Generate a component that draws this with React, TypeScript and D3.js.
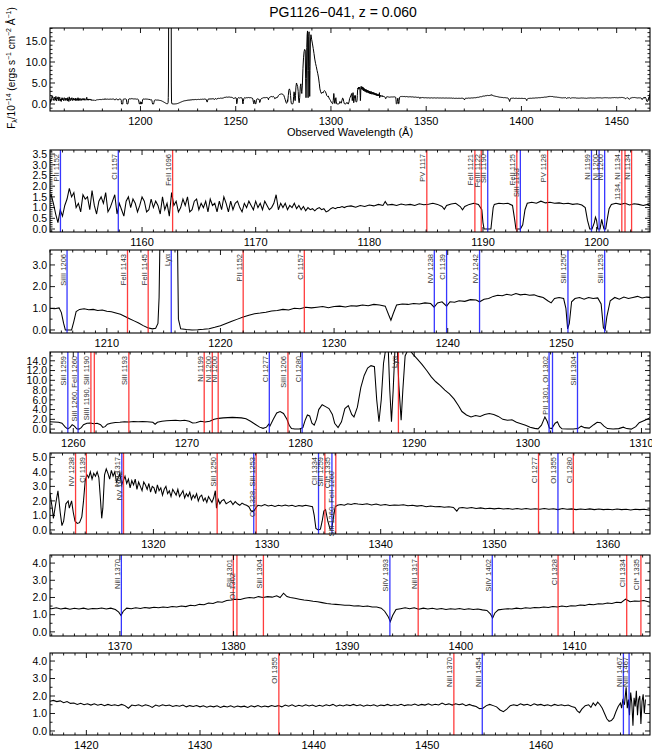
import * as d3 from 'd3';

// ── Figure geometry ─────────────────────────────────────────────────────────
const W = 652;
const H = 753;
const LEFT = 50;
const RIGHT = 650;
const FONT = '"Liberation Sans", Arial, Helvetica, sans-serif';

const TITLE = 'PG1126\u2212041, z = 0.060';
const X_TITLE = 'Observed Wavelength (\u00c5)';

// ── Spectrum: [observed wavelength (Å), flux (1e-14 erg/s/cm²/Å)] ──────────
const spec1: [number, number][] = [
  [1150.2, 1.3], [1150.6, 0.8], [1151.0, 1.5], [1151.4, 1.0], [1151.8, 1.4],
  [1152.0, 1.6], [1152.2, 1.2], [1152.4, 0.7], [1152.6, 0.3], [1152.8, 0.9], [1153.0, 0.6],
  [1153.2, 1.1], [1153.4, 1.4], [1153.6, 1.9], [1153.8, 1.5], [1154.0, 1.7], [1154.2, 1.0],
  [1154.4, 1.2], [1154.6, 0.8], [1154.8, 1.6], [1155.0, 1.4], [1155.2, 1.5], [1155.4, 0.9],
  [1155.6, 1.8], [1155.8, 1.1], [1156.0, 0.7], [1156.2, 1.3], [1156.4, 1.5], [1156.6, 1.2],
  [1156.8, 1.7], [1157.0, 0.8], [1157.2, 1.0], [1157.4, 1.3], [1157.6, 1.6], [1157.8, 0.7],
  [1158.0, 1.2], [1158.2, 0.9], [1158.4, 0.6], [1158.6, 1.3], [1158.8, 1.5], [1159.0, 1.0],
  [1159.2, 1.4], [1159.4, 1.2], [1159.6, 0.8], [1159.8, 1.1], [1160.0, 1.5], [1160.2, 1.3],
  [1160.4, 0.8], [1160.6, 0.9], [1160.8, 1.4], [1161.0, 1.0], [1161.2, 1.3], [1161.4, 1.1],
  [1161.6, 0.7], [1161.8, 1.5], [1162.0, 0.9], [1162.2, 1.2], [1162.4, 0.6], [1162.6, 1.7],
  [1162.8, 1.1], [1163.0, 1.3], [1163.2, 0.8], [1163.4, 1.0], [1163.6, 1.4], [1163.8, 1.1],
  [1164.0, 1.5], [1164.2, 0.8], [1164.4, 0.9], [1164.6, 1.3], [1164.8, 1.4], [1165.0, 0.9],
  [1165.2, 1.2], [1165.4, 1.0], [1165.6, 1.3], [1165.8, 0.8], [1166.0, 1.4], [1166.2, 1.1],
  [1166.4, 1.2], [1166.6, 0.8], [1166.8, 1.3], [1167.0, 0.9], [1167.2, 1.5], [1167.4, 1.2],
  [1167.6, 0.8], [1167.8, 1.3], [1168.0, 0.9], [1168.2, 1.2], [1168.4, 1.3], [1168.6, 1.0],
  [1168.8, 0.8], [1169.0, 1.2], [1169.2, 1.0], [1169.4, 1.3], [1169.6, 1.1], [1169.8, 0.9],
  [1170.0, 1.3], [1170.2, 1.0], [1170.4, 1.2], [1170.6, 0.9], [1170.8, 1.3], [1171.0, 1.1],
  [1171.2, 0.9], [1171.4, 1.0], [1171.6, 1.2], [1171.8, 1.6], [1172.0, 0.9], [1172.2, 1.2],
  [1172.4, 1.0], [1172.6, 1.2], [1172.8, 0.9], [1173.0, 1.1], [1173.2, 1.0], [1173.4, 1.2],
  [1173.6, 0.95], [1173.8, 1.1], [1174.0, 0.9], [1174.2, 1.05], [1174.4, 0.85], [1174.6, 1.0],
  [1174.8, 0.9], [1175.0, 0.95], [1175.2, 0.85], [1175.4, 0.95], [1175.6, 1.0], [1175.8, 0.9],
  [1176.0, 0.95], [1176.2, 0.8], [1176.4, 0.85], [1176.6, 0.95], [1176.8, 1.0], [1177.0, 0.95],
  [1177.2, 1.0], [1177.4, 1.0], [1177.6, 1.05], [1177.8, 1.0], [1178.0, 1.05],
  [1178.4, 1.08], [1178.8, 1.02], [1179.2, 1.1], [1179.6, 1.05], [1180.0, 1.12], [1180.4, 1.08],
  [1180.8, 1.15], [1181.2, 1.1], [1181.4, 1.28], [1181.6, 1.12], [1182.0, 1.15], [1182.4, 1.1],
  [1182.8, 1.17], [1183.2, 1.12], [1183.6, 1.15], [1184.0, 1.1], [1184.4, 1.18], [1184.8, 1.13],
  [1185.2, 1.16], [1185.6, 1.2], [1186.0, 1.15], [1186.4, 1.05], [1186.6, 0.92], [1186.8, 1.1],
  [1187.2, 1.17], [1187.6, 1.2], [1188.0, 1.05], [1188.2, 0.9], [1188.4, 1.05], [1188.8, 1.15],
  [1189.2, 1.2], [1189.6, 1.15], [1189.9, 0.9], [1190.0, 0.3], [1190.1, 0.0], [1190.4, 0.0],
  [1190.7, 0.0], [1190.8, 0.5], [1190.9, 1.0], [1191.0, 1.15], [1191.4, 1.2], [1191.8, 1.18],
  [1192.2, 1.2], [1192.6, 1.1], [1192.8, 0.4], [1192.9, 0.0], [1193.3, 0.0], [1193.5, 0.2],
  [1193.7, 0.9], [1193.9, 1.2], [1194.3, 1.25], [1194.7, 1.2], [1195.1, 1.3], [1195.5, 1.22],
  [1195.9, 1.25], [1196.3, 1.2], [1196.7, 1.22], [1197.1, 1.18], [1197.5, 1.2], [1197.9, 1.15],
  [1198.3, 1.18], [1198.7, 1.12], [1199.0, 1.0], [1199.2, 0.4], [1199.4, 0.0], [1199.6, 0.0],
  [1199.8, 0.3], [1199.9, 0.55], [1200.0, 0.4], [1200.1, 0.0], [1200.3, 0.0], [1200.45, 0.45],
  [1200.55, 0.2], [1200.65, 0.0], [1200.8, 0.0], [1200.95, 0.5], [1201.1, 0.95], [1201.3, 1.15],
  [1201.7, 1.2], [1202.1, 1.15], [1202.5, 1.2], [1202.9, 1.12], [1203.3, 1.18], [1203.7, 1.15],
  [1204.1, 1.1], [1204.5, 1.15],
];

const spec2: [number, number][] = [
  [1205.0, 1.0], [1205.4, 0.98], [1205.8, 1.02], [1206.0, 0.8], [1206.2, 0.3], [1206.35, 0.0],
  [1206.9, 0.0], [1207.1, 0.4], [1207.3, 0.85], [1207.6, 0.95], [1208.0, 0.98], [1208.4, 0.93],
  [1208.8, 0.95], [1209.2, 0.9], [1209.6, 0.92], [1210.0, 0.86], [1210.4, 0.84], [1210.8, 0.78],
  [1211.2, 0.72], [1211.6, 0.62], [1212.0, 0.52], [1212.4, 0.42], [1212.8, 0.32], [1213.2, 0.2],
  [1213.6, 0.1], [1214.0, 0.05], [1214.3, 0.08], [1214.5, 0.3], [1214.6, 1.5], [1214.7, 5.0],
  [1214.9, 40], [1215.1, 60], [1215.3, 25], [1215.5, 60], [1215.7, 30], [1215.9, 60],
  [1216.1, 40], [1216.2, 5.0], [1216.3, 0.5], [1216.5, 0.05], [1217.0, 0.02], [1217.5, 0.0],
  [1218.0, 0.01], [1218.5, 0.03], [1219.0, 0.06], [1219.5, 0.12], [1220.0, 0.2], [1220.5, 0.3],
  [1221.0, 0.4], [1221.5, 0.5], [1222.0, 0.6], [1222.5, 0.68], [1223.0, 0.75], [1223.5, 0.78],
  [1224.0, 0.82], [1224.5, 0.88], [1225.0, 0.9], [1225.5, 0.95], [1226.0, 0.92], [1226.5, 1.0],
  [1227.0, 0.98], [1227.5, 1.05], [1228.0, 1.02], [1228.5, 1.05], [1229.0, 1.08], [1229.5, 1.03],
  [1230.0, 1.08], [1230.5, 1.1], [1231.0, 1.06], [1231.5, 1.12], [1232.0, 1.1], [1232.5, 1.15],
  [1233.0, 1.12], [1233.5, 1.18], [1234.0, 1.15], [1234.5, 1.1], [1234.8, 0.7], [1235.0, 0.45],
  [1235.2, 0.75], [1235.5, 1.15], [1236.0, 1.2], [1236.5, 1.18], [1237.0, 1.22], [1237.5, 1.2],
  [1238.0, 1.25], [1238.5, 1.22], [1238.8, 1.05], [1239.1, 1.25], [1239.5, 1.3], [1239.9, 1.1],
  [1240.2, 1.3], [1240.6, 1.28], [1241.0, 1.35], [1241.5, 1.32], [1242.0, 1.4], [1242.5, 1.38],
  [1242.8, 1.3], [1243.2, 1.42], [1243.6, 1.45], [1244.0, 1.55], [1244.4, 1.6], [1244.8, 1.58],
  [1245.2, 1.65], [1245.6, 1.6], [1246.0, 1.68], [1246.4, 1.62], [1246.8, 1.65], [1247.2, 1.6],
  [1247.6, 1.62], [1248.0, 1.55], [1248.4, 1.5], [1248.8, 1.35], [1249.1, 1.25], [1249.4, 1.45],
  [1249.8, 1.5], [1250.2, 1.45], [1250.4, 1.0], [1250.55, 0.05], [1250.7, 0.3], [1250.9, 1.3],
  [1251.2, 1.45], [1251.6, 1.5], [1252.0, 1.42], [1252.4, 1.5], [1252.8, 1.45], [1253.2, 1.48],
  [1253.5, 1.2], [1253.7, 0.1], [1253.85, 0.0], [1254.0, 0.6], [1254.3, 1.35], [1254.7, 1.5],
  [1255.1, 1.42], [1255.5, 1.52], [1255.9, 1.45], [1256.3, 1.5], [1256.7, 1.55], [1257.1, 1.48],
  [1257.5, 1.52],
];

const spec3: [number, number][] = [
  [1257.9, 1.5], [1258.3, 1.45], [1258.7, 1.4], [1259.0, 1.2], [1259.3, 0.4], [1259.5, 0.05],
  [1259.7, 0.3], [1259.9, 0.9], [1260.1, 0.6], [1260.3, 0.05], [1260.5, 0.0], [1260.7, 0.3],
  [1260.9, 0.9], [1261.2, 1.2], [1261.5, 1.25], [1261.8, 1.1], [1262.1, 1.2], [1262.4, 0.9],
  [1262.6, 0.35], [1262.8, 0.5], [1263.0, 1.0], [1263.3, 1.2], [1263.7, 1.35], [1264.1, 1.4],
  [1264.5, 1.5], [1264.9, 1.45], [1265.3, 1.55], [1265.7, 1.5], [1266.1, 1.55], [1266.5, 1.5],
  [1267.0, 1.4], [1267.2, 1.0], [1267.4, 1.4], [1267.8, 1.6], [1268.2, 1.7], [1268.6, 1.75],
  [1269.0, 1.8], [1269.4, 1.7], [1269.8, 1.8], [1270.2, 1.6], [1270.5, 1.25], [1270.8, 1.3],
  [1271.2, 1.6], [1271.6, 1.45], [1272.0, 1.6], [1272.4, 2.0], [1272.8, 2.2], [1273.2, 2.3],
  [1273.6, 2.35], [1274.0, 2.4], [1274.4, 2.35], [1274.8, 2.3], [1275.2, 2.1], [1275.6, 1.6],
  [1276.0, 1.0], [1276.4, 0.4], [1276.7, 0.15], [1277.0, 0.4], [1277.2, 1.0], [1277.3, 0.6],
  [1277.6, 2.0], [1277.9, 3.3], [1278.2, 3.6], [1278.5, 3.2], [1278.8, 2.0], [1279.0, 0.8],
  [1279.2, 0.1], [1279.5, 0.0], [1279.9, 0.0], [1280.2, 0.3], [1280.4, 1.8], [1280.6, 2.9],
  [1280.8, 2.7], [1281.0, 1.2], [1281.2, 0.8], [1281.4, 2.0], [1281.6, 4.0], [1281.9, 5.0],
  [1282.2, 4.6], [1282.5, 4.2], [1282.8, 3.0], [1283.0, 1.2], [1283.3, 0.3], [1283.6, 1.5],
  [1283.9, 4.2], [1284.2, 4.8], [1284.5, 3.0], [1284.7, 2.5], [1285.0, 4.5], [1285.3, 8.5],
  [1285.6, 11.0], [1285.9, 12.5], [1286.2, 13.0], [1286.5, 12.8], [1286.7, 6.0], [1286.9, 1.5],
  [1287.1, 6.0], [1287.3, 13.5], [1287.5, 16.5], [1287.7, 17.4], [1287.85, 8.0], [1288.0, 1.5],
  [1288.15, 8.0], [1288.3, 16.0], [1288.5, 17.2], [1288.65, 9.0], [1288.85, 1.8], [1289.0, 8.0],
  [1289.2, 15.0], [1289.5, 16.5], [1289.9, 15.3], [1290.3, 14.3], [1290.7, 13.2], [1291.1, 12.0],
  [1291.5, 10.7], [1291.9, 9.7], [1292.3, 8.9], [1292.7, 8.0], [1293.1, 7.2], [1293.5, 6.2],
  [1293.9, 4.8], [1294.2, 3.6], [1294.6, 2.9], [1295.0, 2.5], [1295.4, 2.8], [1295.8, 2.6],
  [1296.2, 3.0], [1296.6, 3.2], [1297.0, 3.0], [1297.4, 2.6], [1297.8, 2.0], [1298.2, 1.8],
  [1298.6, 1.9], [1299.0, 1.4], [1299.4, 1.1], [1299.8, 0.8], [1300.2, 0.4], [1300.6, 0.15],
  [1300.9, 0.05], [1301.2, 0.8], [1301.5, 2.5], [1301.7, 1.6], [1301.9, 0.2], [1302.1, 0.1],
  [1302.4, 1.2], [1302.6, 1.5], [1302.8, 0.5], [1303.0, 0.05], [1303.5, 0.0], [1304.0, 0.02],
  [1304.4, 0.1], [1304.7, 0.6], [1305.0, 0.3], [1305.4, 0.2], [1305.8, 0.9], [1306.1, 1.4],
  [1306.4, 1.3], [1306.7, 0.6], [1307.0, 0.1], [1307.5, 0.0], [1308.0, 0.1], [1308.4, 0.4],
  [1308.7, 0.1], [1309.1, 0.0], [1309.5, 0.5], [1309.8, 1.3], [1310.1, 1.6], [1310.4, 1.9],
];

const spec4: [number, number][] = [
  [1310.9, 2.5], [1311.1, 1.5], [1311.2, 0.8], [1311.4, 1.8], [1311.6, 2.7], [1311.8, 1.2],
  [1311.95, 0.3], [1312.1, 0.6], [1312.3, 1.8], [1312.5, 2.0], [1312.6, 1.5], [1312.8, 2.0],
  [1312.95, 1.2], [1313.1, 0.6], [1313.3, 0.45], [1313.5, 0.5], [1313.7, 0.9], [1313.85, 2.0],
  [1314.0, 3.4], [1314.15, 3.8], [1314.3, 3.6], [1314.45, 4.0], [1314.6, 3.5], [1314.75, 3.9],
  [1314.9, 3.7], [1315.05, 4.0], [1315.2, 3.6], [1315.35, 2.0], [1315.45, 0.8], [1315.55, 1.5],
  [1315.7, 3.8], [1315.85, 4.2], [1316.0, 3.9], [1316.15, 3.5], [1316.3, 4.1], [1316.45, 3.7],
  [1316.6, 4.0], [1316.75, 3.3], [1316.9, 3.6], [1317.05, 3.9], [1317.2, 3.1], [1317.35, 3.4],
  [1317.5, 3.7], [1317.65, 3.2], [1317.8, 3.5], [1317.95, 2.9], [1318.1, 3.4], [1318.25, 3.1],
  [1318.4, 3.5], [1318.55, 2.8], [1318.7, 3.3], [1318.85, 3.0], [1319.0, 2.7], [1319.15, 3.3],
  [1319.3, 3.1], [1319.45, 2.8], [1319.6, 3.2], [1319.75, 2.6], [1319.9, 3.0], [1320.05, 2.9],
  [1320.2, 2.5], [1320.35, 3.1], [1320.5, 2.7], [1320.65, 2.9], [1320.8, 2.4], [1320.95, 2.8],
  [1321.1, 3.0], [1321.25, 2.5], [1321.4, 2.7], [1321.55, 2.3], [1321.7, 2.8], [1321.85, 2.6],
  [1322.0, 2.4], [1322.15, 2.8], [1322.3, 2.3], [1322.45, 2.5], [1322.6, 2.7], [1322.75, 2.2],
  [1322.9, 2.5], [1323.05, 2.3], [1323.2, 2.6], [1323.35, 2.1], [1323.5, 2.4], [1323.65, 2.2],
  [1323.8, 2.5], [1323.95, 2.0], [1324.1, 2.3], [1324.25, 2.4], [1324.4, 2.0], [1324.55, 2.2],
  [1324.7, 1.9], [1324.85, 2.3], [1325.0, 2.1], [1325.15, 1.9], [1325.3, 2.2], [1325.45, 2.7],
  [1325.55, 1.5], [1325.7, 2.1], [1325.85, 1.8], [1326.0, 2.0], [1326.2, 2.1], [1326.4, 1.8],
  [1326.6, 1.9], [1326.8, 2.0], [1327.0, 1.75], [1327.2, 1.95], [1327.4, 1.8], [1327.6, 1.7],
  [1327.8, 1.85], [1328.0, 1.75], [1328.2, 1.7], [1328.4, 1.6], [1328.6, 1.3], [1328.8, 1.25],
  [1329.0, 1.5], [1329.2, 1.7], [1329.5, 1.65], [1329.8, 1.75], [1330.1, 1.65], [1330.4, 1.7],
  [1330.7, 1.62], [1331.0, 1.7], [1331.3, 1.65], [1331.6, 1.72], [1331.9, 1.65], [1332.2, 1.7],
  [1332.5, 1.62], [1332.8, 1.68], [1333.1, 1.64], [1333.4, 1.7], [1333.7, 1.65], [1334.0, 1.6],
  [1334.15, 1.0], [1334.3, 0.1], [1334.5, 0.0], [1334.7, 0.05], [1334.85, 0.6], [1335.0, 1.3],
  [1335.15, 1.4], [1335.35, 0.6], [1335.55, 0.05], [1335.7, 0.1], [1335.85, 0.9], [1336.0, 1.6],
  [1336.2, 1.7], [1336.5, 1.75], [1336.8, 1.7], [1337.1, 1.8], [1337.4, 1.75], [1337.7, 1.82],
  [1338.0, 1.78], [1338.4, 1.75], [1338.8, 1.8], [1339.2, 1.72], [1339.6, 1.78], [1340.0, 1.7],
  [1340.4, 1.75], [1340.8, 1.68], [1341.2, 1.72], [1341.6, 1.7], [1342.0, 1.74], [1342.4, 1.66],
  [1342.8, 1.7], [1343.2, 1.64], [1343.6, 1.68], [1344.0, 1.6], [1344.4, 1.65], [1344.8, 1.6],
  [1345.2, 1.62], [1345.6, 1.56], [1346.0, 1.6], [1346.4, 1.55], [1346.7, 1.3], [1346.9, 1.52],
  [1347.2, 1.55], [1347.6, 1.5], [1348.0, 1.55], [1348.4, 1.48], [1348.8, 1.52], [1349.2, 1.46],
  [1349.6, 1.5], [1350.0, 1.45], [1350.4, 1.5], [1350.8, 1.44], [1351.2, 1.48], [1351.6, 1.42],
  [1352.0, 1.47], [1352.4, 1.43], [1352.8, 1.48], [1353.2, 1.42], [1353.6, 1.46], [1354.0, 1.43],
  [1354.4, 1.47], [1354.8, 1.42], [1355.2, 1.46], [1355.6, 1.4], [1356.0, 1.47], [1356.4, 1.43],
  [1356.8, 1.45], [1357.2, 1.4], [1357.6, 1.44], [1358.0, 1.41], [1358.4, 1.45], [1358.8, 1.4],
  [1359.2, 1.44], [1359.6, 1.4], [1360.0, 1.43], [1360.4, 1.39], [1360.8, 1.44], [1361.2, 1.4],
  [1361.6, 1.42], [1362.0, 1.38], [1362.4, 1.43], [1362.8, 1.4], [1363.2, 1.42],
];

const spec5: [number, number][] = [
  [1363.6, 1.38], [1364.0, 1.35], [1364.4, 1.4], [1364.8, 1.33], [1365.2, 1.38], [1365.6, 1.32],
  [1366.0, 1.37], [1366.4, 1.33], [1366.8, 1.38], [1367.2, 1.32], [1367.6, 1.36], [1368.0, 1.34],
  [1368.4, 1.39], [1368.8, 1.33], [1369.2, 1.38], [1369.6, 1.3], [1369.9, 1.15], [1370.1, 0.95],
  [1370.3, 1.2], [1370.6, 1.38], [1371.0, 1.35], [1371.4, 1.4], [1371.8, 1.36], [1372.2, 1.42],
  [1372.6, 1.38], [1373.0, 1.43], [1373.4, 1.4], [1373.8, 1.45], [1374.2, 1.42], [1374.6, 1.48],
  [1375.0, 1.45], [1375.4, 1.5], [1375.8, 1.47], [1376.2, 1.55], [1376.6, 1.52], [1377.0, 1.6],
  [1377.4, 1.58], [1377.8, 1.68], [1378.2, 1.65], [1378.6, 1.75], [1379.0, 1.72], [1379.4, 1.82],
  [1379.8, 1.85], [1380.2, 1.9], [1380.6, 1.88], [1381.0, 1.95], [1381.4, 2.0], [1381.8, 1.97],
  [1382.2, 2.05], [1382.6, 2.0], [1383.0, 2.05], [1383.4, 2.02], [1383.8, 2.1], [1384.1, 2.0],
  [1384.4, 2.25], [1384.7, 2.05], [1385.0, 2.0], [1385.4, 1.95], [1385.8, 1.9], [1386.2, 1.85],
  [1386.6, 1.82], [1387.0, 1.78], [1387.4, 1.75], [1387.8, 1.7], [1388.2, 1.65], [1388.6, 1.62],
  [1389.0, 1.6], [1389.4, 1.58], [1389.8, 1.55], [1390.2, 1.55], [1390.6, 1.5], [1391.0, 1.52],
  [1391.4, 1.48], [1391.8, 1.5], [1392.2, 1.45], [1392.6, 1.45], [1393.0, 1.38], [1393.3, 1.2],
  [1393.6, 0.9], [1393.8, 0.6], [1394.0, 0.95], [1394.3, 1.3], [1394.7, 1.35], [1395.1, 1.4],
  [1395.5, 1.35], [1395.9, 1.4], [1396.3, 1.32], [1396.7, 1.38], [1397.1, 1.33], [1397.5, 1.37],
  [1397.9, 1.32], [1398.3, 1.36], [1398.7, 1.3], [1399.1, 1.35], [1399.5, 1.32], [1399.9, 1.36],
  [1400.3, 1.3], [1400.7, 1.34], [1401.1, 1.3], [1401.5, 1.33], [1401.9, 1.28], [1402.3, 1.25],
  [1402.6, 1.05], [1402.8, 0.8], [1403.0, 1.1], [1403.3, 1.28], [1403.7, 1.32], [1404.1, 1.35],
  [1404.5, 1.33], [1404.9, 1.38], [1405.3, 1.35], [1405.7, 1.4], [1406.1, 1.37], [1406.5, 1.42],
  [1406.9, 1.4], [1407.3, 1.45], [1407.7, 1.42], [1408.1, 1.47], [1408.5, 1.45], [1408.9, 1.5],
  [1409.3, 1.46], [1409.7, 1.52], [1410.1, 1.5], [1410.5, 1.56], [1410.9, 1.54], [1411.3, 1.6],
  [1411.7, 1.58], [1412.1, 1.64], [1412.5, 1.62], [1412.9, 1.68], [1413.3, 1.65], [1413.7, 1.72],
  [1414.1, 1.7], [1414.5, 1.9], [1414.9, 1.75], [1415.3, 1.8], [1415.7, 1.78], [1416.1, 1.82],
  [1416.5, 1.75],
];

const spec6: [number, number][] = [
  [1416.8, 1.7], [1417.1, 1.75], [1417.4, 1.68], [1417.7, 1.72], [1418.0, 1.62], [1418.3, 1.68],
  [1418.6, 1.58], [1418.9, 1.6], [1419.2, 1.52], [1419.5, 1.58], [1419.8, 1.5], [1420.1, 1.56],
  [1420.4, 1.48], [1420.7, 1.55], [1421.0, 1.47], [1421.3, 1.53], [1421.6, 1.45], [1421.9, 1.52],
  [1422.2, 1.46], [1422.5, 1.5], [1422.8, 1.44], [1423.1, 1.52], [1423.4, 1.45], [1423.7, 1.3],
  [1424.0, 1.48], [1424.3, 1.44], [1424.6, 1.5], [1424.9, 1.42], [1425.2, 1.5], [1425.5, 1.45],
  [1425.8, 1.35], [1426.1, 1.48], [1426.4, 1.42], [1426.7, 1.5], [1427.0, 1.44], [1427.3, 1.48],
  [1427.6, 1.4], [1427.9, 1.46], [1428.2, 1.42], [1428.5, 1.48], [1428.8, 1.38], [1429.1, 1.45],
  [1429.4, 1.4], [1429.7, 1.46], [1430.0, 1.38], [1430.3, 1.44], [1430.6, 1.36], [1430.9, 1.43],
  [1431.2, 1.38], [1431.5, 1.44], [1431.8, 1.35], [1432.1, 1.42], [1432.4, 1.37], [1432.7, 1.44],
  [1433.0, 1.36], [1433.3, 1.43], [1433.6, 1.38], [1433.9, 1.42], [1434.2, 1.35], [1434.5, 1.44],
  [1434.8, 1.38], [1435.1, 1.45], [1435.4, 1.37], [1435.7, 1.43], [1436.0, 1.38], [1436.3, 1.46],
  [1436.6, 1.4], [1436.9, 1.45], [1437.2, 1.38], [1437.5, 1.48], [1437.8, 1.42], [1438.1, 1.5],
  [1438.4, 1.4], [1438.7, 1.47], [1439.0, 1.42], [1439.3, 1.5], [1439.6, 1.43], [1439.9, 1.48],
  [1440.2, 1.4], [1440.5, 1.47], [1440.8, 1.42], [1441.1, 1.5], [1441.4, 1.44], [1441.7, 1.52],
  [1442.0, 1.42], [1442.3, 1.48], [1442.6, 1.43], [1442.9, 1.5], [1443.2, 1.45], [1443.5, 1.52],
  [1443.8, 1.44], [1444.1, 1.5], [1444.4, 1.42], [1444.7, 1.48], [1445.0, 1.44], [1445.3, 1.5],
  [1445.6, 1.42], [1445.9, 1.48], [1446.2, 1.45], [1446.5, 1.52], [1446.8, 1.44], [1447.1, 1.5],
  [1447.4, 1.46], [1447.7, 1.53], [1448.0, 1.45], [1448.3, 1.5], [1448.6, 1.47], [1448.9, 1.54],
  [1449.2, 1.46], [1449.5, 1.52], [1449.8, 1.48], [1450.1, 1.55], [1450.4, 1.47], [1450.7, 1.53],
  [1451.0, 1.49], [1451.3, 1.6], [1451.6, 1.5], [1451.9, 1.55], [1452.2, 1.48], [1452.5, 1.56],
  [1452.8, 1.5], [1453.1, 1.55], [1453.4, 1.45], [1453.7, 1.52], [1454.0, 1.45], [1454.3, 1.4],
  [1454.6, 1.28], [1454.9, 1.3], [1455.2, 1.45], [1455.5, 1.52], [1455.8, 1.45], [1456.1, 1.38],
  [1456.4, 1.2], [1456.7, 1.1], [1457.0, 1.25], [1457.3, 1.45], [1457.6, 1.5], [1457.9, 1.45],
  [1458.2, 1.55], [1458.5, 1.48], [1458.8, 1.53], [1459.1, 1.45], [1459.4, 1.55], [1459.7, 1.48],
  [1460.0, 1.52], [1460.3, 1.45], [1460.6, 1.5], [1460.9, 1.43], [1461.2, 1.52], [1461.5, 1.46],
  [1461.8, 1.5], [1462.1, 1.44], [1462.4, 1.48], [1462.7, 1.4], [1463.0, 1.35], [1463.2, 1.15],
  [1463.4, 1.05], [1463.6, 1.25], [1463.9, 1.45], [1464.2, 1.5], [1464.4, 1.35], [1464.6, 1.6],
  [1464.8, 1.45], [1465.0, 1.65], [1465.2, 1.5], [1465.4, 1.3], [1465.6, 1.0], [1465.8, 0.7],
  [1466.0, 0.55], [1466.2, 0.6], [1466.4, 0.75], [1466.6, 1.1], [1466.8, 1.4], [1467.0, 1.6],
  [1467.1, 1.3], [1467.2, 1.75], [1467.35, 1.5], [1467.5, 2.5], [1467.6, 1.3], [1467.7, 1.8],
  [1467.8, 0.9], [1467.9, 2.2], [1468.0, 1.6], [1468.1, 0.3], [1468.2, 1.9], [1468.3, 1.4],
  [1468.4, 2.3], [1468.5, 0.9], [1468.6, 1.8], [1468.7, 2.0], [1468.8, 0.4], [1468.9, 1.7],
  [1469.0, 2.1], [1469.1, 1.0], [1469.2, 1.8],
];

const SPECTRUM = [...spec1, ...spec2, ...spec3, ...spec4, ...spec5, ...spec6];

// ── Absorption-line markers: [observed λ, 'r' intrinsic | 'b' Galactic, label] ──
type Marker = [number, 'r' | 'b', string];

const lines1: Marker[] = [
  [1152.82, 'b', 'PII 1152'], [1157.91, 'b', 'CI 1157'], [1162.69, 'r', 'FeII 1096'],
  [1185.06, 'r', 'PV 1117'], [1189.29, 'r', 'FeII 1121'], [1189.85, 'r', 'FeIII 1122'],
  [1190.42, 'b', 'SiII 1190'], [1192.98, 'r', 'FeII 1125'], [1193.29, 'b', 'SiII 1193'],
  [1195.69, 'r', 'PV 1128'], [1199.55, 'b', 'NI 1199'], [1200.22, 'b', 'NI 1200'],
  [1200.71, 'b', 'NI 1200'], [1202.22, 'r', '1134, NI 1134'], [1202.5, 'r', ''],
  [1203.08, 'r', 'NI 1134'],
];
const lines2: Marker[] = [
  [1206.5, 'b', 'SiIII 1206'], [1211.82, 'r', 'FeII 1143'], [1213.64, 'r', 'FeII 1145'],
  [1215.67, 'b', 'Ly\u03b1'], [1222.0, 'r', 'PII 1152'], [1227.38, 'r', 'CI 1157'],
  [1238.82, 'b', 'NV 1238'], [1239.9, 'b', 'CI 1139'], [1242.8, 'b', 'NV 1242'],
  [1250.58, 'b', 'SiII 1250'], [1253.81, 'b', 'SiII 1253'],
];
const lines3: Marker[] = [
  [1259.52, 'b', 'SiII 1259'], [1260.42, 'b', 'SiII 1260, FeII 1260'],
  [1261.55, 'r', 'SiIII 1190, SiII 1190'], [1261.85, 'r', ''], [1264.89, 'r', 'SiII 1193'],
  [1271.52, 'r', 'NI 1199'], [1272.23, 'r', 'NI 1200'], [1272.75, 'r', 'NI 1200'],
  [1277.25, 'b', 'CI 1277'], [1278.89, 'r', 'SiIII 1206'], [1280.14, 'b', 'CI 1280'],
  [1288.61, 'r', 'Ly\u03b1'], [1301.87, 'b', 'PII 1301, OI 1302'], [1302.17, 'b', ''],
  [1304.37, 'b', 'SiII 1304'],
];
const lines4: Marker[] = [
  [1313.15, 'r', 'NV 1238'], [1314.1, 'r', 'CI 1139'], [1317.22, 'b', 'NiII 1317'],
  [1317.37, 'r', 'NV 1242'], [1325.61, 'r', 'SiII 1250'], [1328.83, 'b', ''],
  [1329.04, 'r', 'CI 1328, SiII 1253'], [1334.53, 'b', 'CII 1334'], [1335.09, 'r', 'SiII 1259'],
  [1335.71, 'b', 'CII* 1335'], [1336.05, 'r', 'SiII 1260, FeII 1260'],
  [1353.89, 'r', 'CI 1277'], [1355.6, 'b', 'OI 1355'], [1356.95, 'r', 'CI 1280'],
];
const lines5: Marker[] = [
  [1370.13, 'b', 'NiII 1370'], [1379.98, 'r', 'PII 1301'], [1380.3, 'r', 'OI 1302'],
  [1382.63, 'r', 'SiII 1304'], [1393.76, 'b', 'SiIV 1393'], [1396.25, 'r', 'NiII 1317'],
  [1402.77, 'b', 'SiIV 1402'], [1408.56, 'r', 'CI 1328'], [1414.6, 'r', 'CII 1334'],
  [1415.85, 'r', 'CII* 1335'],
];
const lines6: Marker[] = [
  [1436.94, 'r', 'OI 1355'], [1452.34, 'r', 'NiII 1370'], [1454.84, 'b', 'NiII 1454'],
  [1467.26, 'b', 'NiII 1467'], [1467.76, 'b', 'NiII 1467'],
];

// ── Axis set-up ───────────────────────────────────────────────────────────────
const TOP_XDOMAIN = [1152.5, 1467.5];
const TOP_YDOMAIN = [-1.67, 18.1];
const TOP_BOX = [28, 111];

const PANEL_START = [1151.9, 1205.0, 1257.95, 1310.9, 1363.85, 1416.8];
const PANEL_SPAN = 52.8;
const PANEL_YDOMAIN = [
  [-0.14, 3.69], [-0.14, 3.69], [-0.8, 15.8], [-0.28, 5.3], [-0.24, 4.47], [-0.23, 4.46],
];
const PANEL_YMAJOR = [0.5, 1, 2, 1, 1, 1];
const PANEL_YMINOR = [0.1, 0.5, 1, 0.5, 0.5, 0.5];
const PANEL_TOP = [150, 250, 352, 453, 555, 653];
const PANEL_BOTTOM = [232, 333, 433, 534, 636, 735];
const PANEL_LINES = [lines1, lines2, lines3, lines4, lines5, lines6];

const COLORS = { r: '#ff1a1a', b: '#1414ff' };

function tickVals(min: number, max: number, step: number): number[] {
  const out: number[] = [];
  for (let i = Math.ceil(min / step - 1e-9); i * step <= max + 1e-9; i++) {
    out.push(+(i * step).toFixed(6));
  }
  return out;
}

function Frame({
  x, y, xMajor, xMinor, yMajor, yMinor, top, bottom, yFmt, fontSize,
}: {
  x: d3.ScaleLinear<number, number>;
  y: d3.ScaleLinear<number, number>;
  xMajor: number; xMinor: number; yMajor: number; yMinor: number;
  top: number; bottom: number; yFmt: (n: number) => string; fontSize: number;
}) {
  const [x0, x1] = x.domain();
  const [y0, y1] = y.domain();
  const xM = tickVals(x0, x1, xMajor);
  const xm = tickVals(x0, x1, xMinor).filter((v) => !xM.includes(v));
  const yM = tickVals(y0, y1, yMajor);
  const ym = tickVals(y0, y1, yMinor).filter((v) => !yM.some((m) => Math.abs(m - v) < 1e-6));
  const MJ = 5;
  const MN = 2.5;
  return (
    <g stroke="#000" strokeWidth={0.9}>
      {xM.map((v) => (
        <g key={`xM${v}`}>
          <line x1={x(v)} x2={x(v)} y1={bottom} y2={bottom - MJ} />
          <line x1={x(v)} x2={x(v)} y1={top} y2={top + MJ} />
        </g>
      ))}
      {xm.map((v) => (
        <g key={`xm${v}`}>
          <line x1={x(v)} x2={x(v)} y1={bottom} y2={bottom - MN} />
          <line x1={x(v)} x2={x(v)} y1={top} y2={top + MN} />
        </g>
      ))}
      {yM.map((v) => (
        <g key={`yM${v}`}>
          <line x1={LEFT} x2={LEFT + MJ} y1={y(v)} y2={y(v)} />
          <line x1={RIGHT} x2={RIGHT - MJ} y1={y(v)} y2={y(v)} />
        </g>
      ))}
      {ym.map((v) => (
        <g key={`ym${v}`}>
          <line x1={LEFT} x2={LEFT + MN} y1={y(v)} y2={y(v)} />
          <line x1={RIGHT} x2={RIGHT - MN} y1={y(v)} y2={y(v)} />
        </g>
      ))}
      <rect x={LEFT} y={top} width={RIGHT - LEFT} height={bottom - top} fill="none" strokeWidth={1.1} />
      <g stroke="none" fill="#000" fontSize={11} fontFamily={FONT}>
        {xM.map((v) => (
          <text key={`xl${v}`} x={x(v)} y={bottom + 14} textAnchor="middle">
            {v}
          </text>
        ))}
      </g>
      <g stroke="none" fill="#000" fontSize={fontSize} fontFamily={FONT}>
        {yM.map((v) => (
          <text key={`yl${v}`} x={LEFT - 3} y={y(v)} dy="0.36em" textAnchor="end">
            {yFmt(v)}
          </text>
        ))}
      </g>
    </g>
  );
}

const fmt1 = d3.format('.1f');

function TopPanel() {
  const [top, bottom] = TOP_BOX;
  const x = d3.scaleLinear().domain(TOP_XDOMAIN).range([LEFT, RIGHT]);
  const y = d3.scaleLinear().domain(TOP_YDOMAIN).range([bottom, top]);
  const path = d3
    .line<[number, number]>()
    .x((d) => x(d[0]))
    .y((d) => y(d[1]))(SPECTRUM);
  return (
    <g>
      <defs>
        <clipPath id="clip-top">
          <rect x={LEFT} y={top} width={RIGHT - LEFT} height={bottom - top} />
        </clipPath>
      </defs>
      <path d={path ?? ''} fill="none" stroke="#000" strokeWidth={1} clipPath="url(#clip-top)" />
      <Frame x={x} y={y} xMajor={50} xMinor={10} yMajor={5} yMinor={1} top={top} bottom={bottom} yFmt={fmt1} fontSize={11} />
      <text x={(LEFT + RIGHT) / 2} y={bottom + 25} textAnchor="middle" fontSize={11} fontFamily={FONT}>
        {X_TITLE}
      </text>
      <text transform="translate(15,68) rotate(-90)" textAnchor="middle" fontSize={10} fontFamily={FONT}>
        F<tspan fontSize={7} dy={2}>{'\u03bb'}</tspan>
        <tspan dy={-2}>/10</tspan>
        <tspan fontSize={7} dy={-4}>{'\u221214'}</tspan>
        <tspan dy={4}> (ergs s</tspan>
        <tspan fontSize={7} dy={-4}>{'\u22121'}</tspan>
        <tspan dy={4}> cm</tspan>
        <tspan fontSize={7} dy={-4}>{'\u22122'}</tspan>
        <tspan dy={4}> {'\u00c5'}</tspan>
        <tspan fontSize={7} dy={-4}>{'\u22121'}</tspan>
        <tspan dy={4}>)</tspan>
      </text>
    </g>
  );
}

function SubPanel({ idx }: { idx: number }) {
  const x0 = PANEL_START[idx];
  const x1 = x0 + PANEL_SPAN;
  const top = PANEL_TOP[idx];
  const bottom = PANEL_BOTTOM[idx];
  const x = d3.scaleLinear().domain([x0, x1]).range([LEFT, RIGHT]);
  const y = d3.scaleLinear().domain(PANEL_YDOMAIN[idx]).range([bottom, top]);
  const pts = SPECTRUM.filter((d) => d[0] >= x0 - 1 && d[0] <= x1 + 1);
  const path = d3
    .line<[number, number]>()
    .x((d) => x(d[0]))
    .y((d) => y(d[1]))(pts);

  // stagger labels whose markers sit almost on top of each other
  const markers = PANEL_LINES[idx];
  let lastX = -999;
  let level = 0;
  const placed = markers.map((m) => {
    const px = x(m[0]);
    if (m[2] !== '') {
      level = px - lastX < 4 ? Math.min(level + 1, 2) : 0;
      lastX = px;
    }
    return { m, px, level };
  });

  const clipId = `clip-${idx}`;
  return (
    <g>
      <defs>
        <clipPath id={clipId}>
          <rect x={LEFT} y={top} width={RIGHT - LEFT} height={bottom - top} />
        </clipPath>
      </defs>
      <path d={path ?? ''} fill="none" stroke="#000" strokeWidth={1.05} clipPath={`url(#${clipId})`} />
      {placed.map(({ m, px }, i) => (
        <line key={`ln${i}`} x1={px} x2={px} y1={top} y2={bottom} stroke={COLORS[m[1]]} strokeWidth={1.3} strokeOpacity={0.85} />
      ))}
      <g fontSize={7.5} fontFamily={FONT} fill="#333">
        {placed
          .filter(({ m }) => m[2] !== '')
          .map(({ m, px, level: lv }, i) => {
            const ty = top + 4 + lv * 14;
            return (
              <text key={`lb${i}`} x={px - 1.5} y={ty} textAnchor="end" transform={`rotate(-90, ${px - 1.5}, ${ty})`}>
                {m[2]}
              </text>
            );
          })}
      </g>
      <Frame
        x={x}
        y={y}
        xMajor={10}
        xMinor={1}
        yMajor={PANEL_YMAJOR[idx]}
        yMinor={PANEL_YMINOR[idx]}
        top={top}
        bottom={bottom}
        yFmt={fmt1}
        fontSize={10.5}
      />
    </g>
  );
}

export default function App() {
  return (
    <svg
      width={W}
      height={H}
      viewBox={`0 0 ${W} ${H}`}
      style={{ position: 'absolute', left: 0, top: 0, background: '#fff' }}
    >
      <rect width={W} height={H} fill="#fff" />
      <text x={343} y={17} textAnchor="middle" fontSize={14} fontFamily={FONT}>
        {TITLE}
      </text>
      <TopPanel />
      {PANEL_START.map((_, i) => (
        <SubPanel key={i} idx={i} />
      ))}
    </svg>
  );
}
